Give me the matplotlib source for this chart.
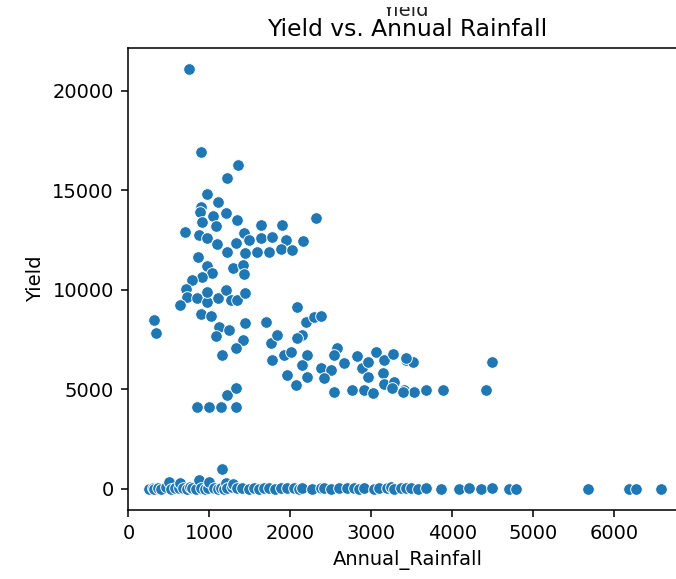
import matplotlib
matplotlib.use("Agg")
import matplotlib.pyplot as plt
import seaborn as sns
import pandas as pd
from matplotlib.patches import Rectangle

# Upper clusters (Annual_Rainfall, Yield)
upper_rain = [750, 902, 1355, 1223, 976, 1100, 893, 880, 1050, 1207, 1339, 2322, 1643, 1902,
              696, 906, 1079, 873, 968, 1430, 1490, 1634, 1778, 1943, 2161, 1091, 1326, 1215,
              1437, 1585, 1737, 1881, 2025, 853, 976, 1038, 1297, 1420, 1430, 914, 790, 708,
              729, 852, 976, 1100, 1202, 1264, 1346, 1437, 968, 638, 317, 338, 894, 1017,
              1120, 1243, 1079, 1437, 1420, 1326, 1161, 1696, 1758, 1840, 1778, 1922, 2004,
              2087, 2190, 2293, 2375, 2149, 2087, 2211, 2149, 1963, 2066, 2211, 2375, 2499,
              2416, 2581, 2664, 2540, 2540, 2766, 2911, 3014, 2828, 2890, 2952, 3055, 3158,
              3137, 3158, 3272, 3281, 3426, 3508, 3405, 3529, 2952, 852, 996, 1140, 1326,
              1215, 1326, 1153, 3260, 3384, 3672, 3878, 4412, 4494, 3425]
upper_yield = [21090, 16950, 16250, 15645, 14808, 14390, 14188, 13903, 13718, 13850, 13518, 13635, 13266, 13266,
               12931, 13400, 13200, 12764, 12596, 12848, 12513, 12596, 12647, 12513, 12480, 12312, 12345, 11925,
               11875, 11892, 11925, 12043, 12010, 11675, 11206, 10838, 11089, 11256, 10804, 10670, 10502, 10034,
               9665, 9581, 9414, 9581, 10000, 9497, 9497, 9832, 9916, 9246, 8492, 7822, 8794, 8693,
               8158, 7990, 7688, 8325, 7487, 7068, 6734, 8408, 7320, 7739, 6482, 6734, 6901,
               9162, 8408, 8659, 8693, 7739, 7571, 6734, 6231, 5729, 5226, 5645, 6064, 5980,
               5561, 7068, 6315, 6734, 4891, 4975, 4975, 4807, 6684, 6064, 5645, 6901, 6482,
               5813, 5277, 6784, 5394, 6482, 6399, 4975, 4891, 6399, 4136, 4136, 4136, 4136,
               4723, 5092, 989, 5060, 4891, 4975, 4975, 4975, 6399, 6566]

# Near-zero yields
low_rain = [256, 300, 318, 360, 400, 460, 502, 523, 580, 626, 640, 680, 729, 760, 791, 840, 873,
            894, 940, 984, 1000, 1058, 1100, 1141, 1180, 1200, 1223, 1280, 1290, 1346, 1400, 1490,
            1550, 1614, 1680, 1737, 1810, 1881, 1963, 2046, 2100, 2149, 2272, 2375, 2416, 2499,
            2601, 2704, 2787, 2850, 2911, 3034, 3096, 3198, 3240, 3281, 3363, 3425, 3487, 3570,
            3672, 3857, 4083, 4206, 4350, 4494, 4700, 4782, 5668, 6183, 6265, 6573]
low_yield = [10, 40, 5, 60, 20, 80, 370, 15, 50, 30, 300, 70, 10, 90, 40, 20, 450,
             60, 15, 35, 350, 70, 20, 55, 10, 300, 45, 80, 250, 25, 60, 15,
             40, 20, 70, 30, 10, 50, 25, 60, 15, 40, 20, 70, 30, 10,
             50, 25, 60, 15, 40, 20, 70, 30, 80, 10, 50, 25, 60, 15,
             40, 20, 10, 30, 15, 25, 20, 10, 15, 20, 10, 15]

df = pd.DataFrame({
    "Annual_Rainfall": upper_rain + low_rain,
    "Yield": upper_yield + low_yield,
})

fig = plt.figure(figsize=(676 / 140, 579 / 140), dpi=140)
ax = fig.add_axes([127.6 / 676, 69 / 579, (687.7 - 127.6) / 676, (510 - 48) / 579])
sns.scatterplot(data=df, x="Annual_Rainfall", y="Yield", ax=ax, color="#1f77b4")
ax.set_xlim(-10, 6905)
ax.set_ylim(-1055, 22150)
ax.set_xticks([0, 1000, 2000, 3000, 4000, 5000, 6000])
ax.set_yticks([0, 5000, 10000, 15000, 20000])
ax.spines["right"].set_visible(False)
ax.set_title("Yield vs. Annual Rainfall", fontsize=12)

# Partially hidden overlapping heading
fig.text(405 / 676, 1 - 15.5 / 579, "Yield", ha="center", va="baseline", fontsize=10, color="#222222")
fig.patches.append(Rectangle((0, 1 - 7 / 579), 1, 7 / 579, transform=fig.transFigure,
                             facecolor="white", edgecolor="none", zorder=10))

fig.savefig("out.png", dpi=140)
